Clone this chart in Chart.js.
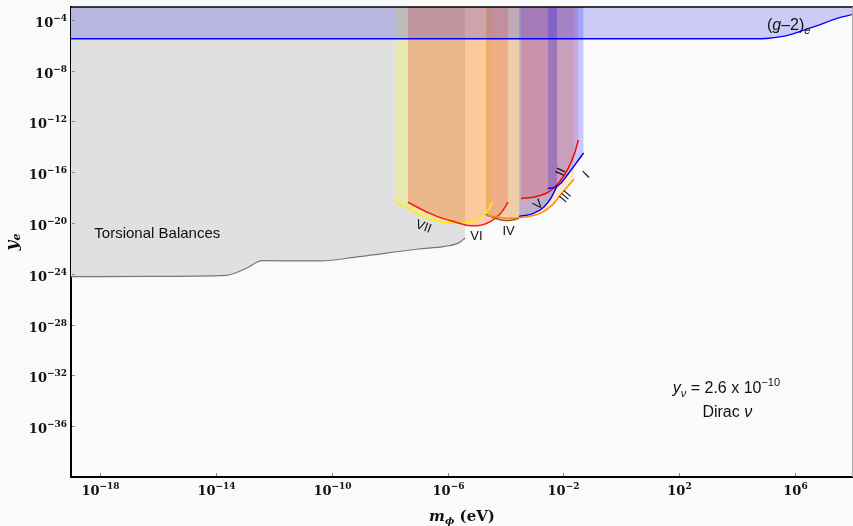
<!DOCTYPE html>
<html>
<head>
<meta charset="utf-8">
<title>Electron Yukawa coupling limits</title>
<script src="https://cdn.jsdelivr.net/npm/chart.js"></script>
<style>
  body { margin: 0; background: #fafafa; }
  #wrap { width: 853px; height: 526px; }
</style>
</head>
<body>
<div id="wrap"><canvas id="limitChart" width="853" height="526"></canvas></div>
<script>
// every number below is a log10 value (m_phi in eV, y_e)
const xTickExp = [-18, -14, -10, -6, -2, 2, 6];
const yTickExp = [-4, -8, -12, -16, -20, -24, -28, -32, -36];

const g2LogM = [-19, 4.6, 5.1, 5.45, 5.8, 6.15, 6.5, 6.85, 7.25, 7.6, 8];
const g2LogY = [-5.5, -5.5, -5.46, -5.36, -5.19, -4.93, -4.66, -4.4, -4.06, -3.8, -3.58];

const torsionLogM = [-19, -16.3, -13.65, -12.95, -12.4, -10.4, -9.05, -7.0, -6.1, -5.6, -5.39];
const torsionLogY = [-24.23, -24.21, -24.13, -23.57, -22.97, -22.99, -22.65, -22.05, -21.85, -21.55, -21.18];

const viiLogM = [-7.79, -7.32, -6.86, -6.28, -5.71, -5.14, -4.68, -4.45];
const viiLogY = [-18.37, -18.89, -19.5, -19.88, -20.02, -19.94, -19.23, -18.37];

const viLogM = [-7.37, -6.63, -6.18, -5.71, -5.39, -5.02, -4.56, -4.16, -3.91];
const viLogY = [-18.37, -19.23, -19.64, -19.94, -20.16, -20.23, -19.94, -19.23, -18.37];

const ivLogM = [-4.68, -4.39, -4.11, -3.87, -3.7, -3.53];
const ivLogY = [-19.33, -19.6, -19.78, -19.8, -19.74, -19.64];

const iiiLogM = [-4.68, -4.22, -3.87, -3.41, -2.84, -2.38, -2.03, -1.8, -1.63];
const iiiLogY = [-19.41, -19.56, -19.64, -19.56, -19.29, -18.58, -17.61, -17.0, -16.55];

const vLogM = [-3.53, -3.07, -2.67, -2.43, -2.21];
const vLogY = [-19.49, -19.29, -18.74, -18.05, -17.04];

const iiLogM = [-3.46, -2.95, -2.49, -2.15, -1.86, -1.63, -1.48];
const iiLogY = [-18.08, -17.93, -17.53, -16.82, -15.82, -14.64, -13.46];

const iLogM = [-2.54, -2.29, -2.08, -1.87, -1.63, -1.46, -1.3];
const iLogY = [-17.28, -17.2, -16.85, -16.25, -15.51, -14.99, -14.48];

// label anchors (log10 m_phi, log10 y_e)
const numeralText = ['VII', 'VI', 'IV', 'V', 'III', 'II', 'I'];
const numeralLogM = [-6.83, -5.0, -3.89, -2.86, -1.92, -2.08, -1.2];
const numeralLogY = [-20.31, -21.1, -20.67, -18.58, -17.95, -15.98, -16.22];
const numeralAngle = [20, 0, 0, -40, -50, -65, -45];

const pts = (lm, ly) => lm.map((v, i) => ({ x: Math.pow(10, v), y: Math.pow(10, ly[i]) }));

function region(label, lm, ly, line, fillCol, width) {
    return {
        label: label,
        data: pts(lm, ly),
        borderColor: line,
        backgroundColor: fillCol,
        borderWidth: width || 1.5,
        fill: 'end',
        pointRadius: 0,
        cubicInterpolationMode: 'monotone'
    };
}

function richWidth(ctx, parts) {
    let w = 0;
    parts.forEach(p => { ctx.font = p[1]; w += ctx.measureText(p[0]).width; });
    return w;
}

// draws mixed-font text; align 'center' or 'right'
function drawRich(ctx, parts, x, y, align) {
    const w = richWidth(ctx, parts);
    let cx = align === 'right' ? x - w : x - w / 2;
    parts.forEach(p => {
        ctx.font = p[1];
        ctx.fillText(p[0], cx, y + (p[2] || 0));
        cx += ctx.measureText(p[0]).width;
    });
}

const serifB = '"DejaVu Serif"';
function powParts(v) {
    const e = Math.round(Math.log10(v));
    return [
        ['10', 'bold 13px ' + serifB],
        [String(e).replace('-', '\u2212'), 'bold 9px ' + serifB, -6]
    ];
}

const decor = {
    id: 'decor',
    afterDraw(chart) {
        const { ctx, chartArea: a, scales: { x, y } } = chart;
        const px = v => x.getPixelForValue(Math.pow(10, v));
        const py = v => y.getPixelForValue(Math.pow(10, v));
        ctx.save();

        // frame: black top, grey right
        ctx.strokeStyle = '#000';
        ctx.lineWidth = 1.5;
        ctx.beginPath(); ctx.moveTo(a.left, a.top); ctx.lineTo(a.right, a.top); ctx.stroke();
        ctx.strokeStyle = '#aaa';
        ctx.lineWidth = 1;
        ctx.beginPath(); ctx.moveTo(a.right - 0.5, a.top); ctx.lineTo(a.right - 0.5, a.bottom); ctx.stroke();

        // small inward ticks and tick labels
        ctx.strokeStyle = '#888';
        ctx.fillStyle = '#111';
        ctx.textAlign = 'left';
        ctx.textBaseline = 'alphabetic';
        x.ticks.forEach(t => {
            const p = Math.round(x.getPixelForValue(t.value)) + 0.5;
            ctx.beginPath(); ctx.moveTo(p, a.bottom - 1); ctx.lineTo(p, a.bottom - 4); ctx.stroke();
            drawRich(ctx, powParts(t.value), p, a.bottom + 18, 'center');
        });
        y.ticks.forEach(t => {
            const p = Math.round(y.getPixelForValue(t.value)) + 0.5;
            ctx.beginPath(); ctx.moveTo(a.left + 1, p); ctx.lineTo(a.left + 4, p); ctx.stroke();
            drawRich(ctx, powParts(t.value), a.left - 4, p + 6, 'right');
        });

        // axis titles
        drawRich(ctx, [
            ['m', 'bold italic 15px ' + serifB],
            ['\u03D5', 'bold italic 10px ' + serifB, 3],
            [' (eV)', 'bold 15px ' + serifB]
        ], (a.left + a.right) / 2, 521);
        ctx.save();
        ctx.translate(17, (a.top + a.bottom) / 2);
        ctx.rotate(-Math.PI / 2);
        drawRich(ctx, [
            ['y', 'bold italic 17px ' + serifB],
            ['e', 'bold italic 11px ' + serifB, 3]
        ], 0, 0);
        ctx.restore();

        // region labels
        const sans = '"Liberation Sans", Arial, sans-serif';
        drawRich(ctx, [['Torsional Balances', '15px ' + sans]], px(-16.02), py(-21.2));
        drawRich(ctx, [
            ['(', '16px ' + sans],
            ['g', 'italic 16px ' + sans],
            ['\u20132)', '16px ' + sans],
            ['e', 'italic 11px ' + sans, 4]
        ], px(5.78), py(-4.79));
        drawRich(ctx, [
            ['y', 'italic 16px ' + sans],
            ['\u03BD', 'italic 11px ' + sans, 4],
            [' = 2.6 x 10', '16px ' + sans],
            ['\u221210', '11px ' + sans, -7]
        ], px(3.63), py(-33.42));
        drawRich(ctx, [
            ['Dirac ', '16px ' + sans],
            ['\u03BD', 'italic 16px ' + sans]
        ], px(3.66), py(-35.26));

        ctx.font = '13px ' + sans;
        ctx.textAlign = 'center';
        ctx.textBaseline = 'middle';
        numeralText.forEach((t, i) => {
            ctx.save();
            ctx.translate(px(numeralLogM[i]), py(numeralLogY[i]));
            ctx.rotate(numeralAngle[i] * Math.PI / 180);
            ctx.fillText(t, 0, 0);
            ctx.restore();
        });
        ctx.restore();
    }
};

new Chart(document.getElementById('limitChart'), {
    type: 'line',
    data: {
        datasets: [
            region('(g-2)e', g2LogM, g2LogY, '#0000ff', 'rgba(20,20,235,0.2)', 1.3),
            region('I', iLogM, iLogY, '#0000ff', 'rgba(0,0,255,0.2)'),
            region('II', iiLogM, iiLogY, '#ff0000', 'rgba(255,0,0,0.15)'),
            region('III', iiiLogM, iiiLogY, '#ff8c00', 'rgba(255,165,0,0.2)'),
            region('IV', ivLogM, ivLogY, '#a0522d', 'rgba(160,82,45,0.2)'),
            region('V', vLogM, vLogY, '#0000ff', 'rgba(0,0,255,0.3)'),
            region('VI', viLogM, viLogY, '#ff1a00', 'rgba(255,0,0,0.2)'),
            region('VII', viiLogM, viiLogY, '#ffee00', 'rgba(255,255,0,0.22)'),
            region('Torsional Balances', torsionLogM, torsionLogY, '#777777', 'rgb(224,224,224)', 1.2)
        ]
    },
    options: {
        responsive: false,
        animation: false,
        layout: { padding: { top: 7, right: 0, left: 0, bottom: 0 } },
        plugins: {
            legend: { display: false },
            tooltip: { enabled: false },
            filler: { drawTime: 'beforeDatasetsDraw' }
        },
        scales: {
            x: {
                type: 'logarithmic',
                min: 1e-19,
                max: 1e8,
                afterBuildTicks: s => { s.ticks = xTickExp.map(e => ({ value: Math.pow(10, e) })); },
                afterFit: s => { s.height = 49; },
                grid: { drawOnChartArea: false, drawTicks: false },
                border: { color: '#000', width: 2 },
                ticks: { display: false }
            },
            y: {
                type: 'logarithmic',
                min: 1e-40,
                max: 1e-3,
                afterBuildTicks: s => { s.ticks = yTickExp.map(e => ({ value: Math.pow(10, e) })); },
                afterFit: s => { s.width = 71; },
                grid: { drawOnChartArea: false, drawTicks: false },
                border: { color: '#000', width: 2 },
                ticks: { display: false }
            }
        }
    },
    plugins: [decor]
});
</script>
</body>
</html>
